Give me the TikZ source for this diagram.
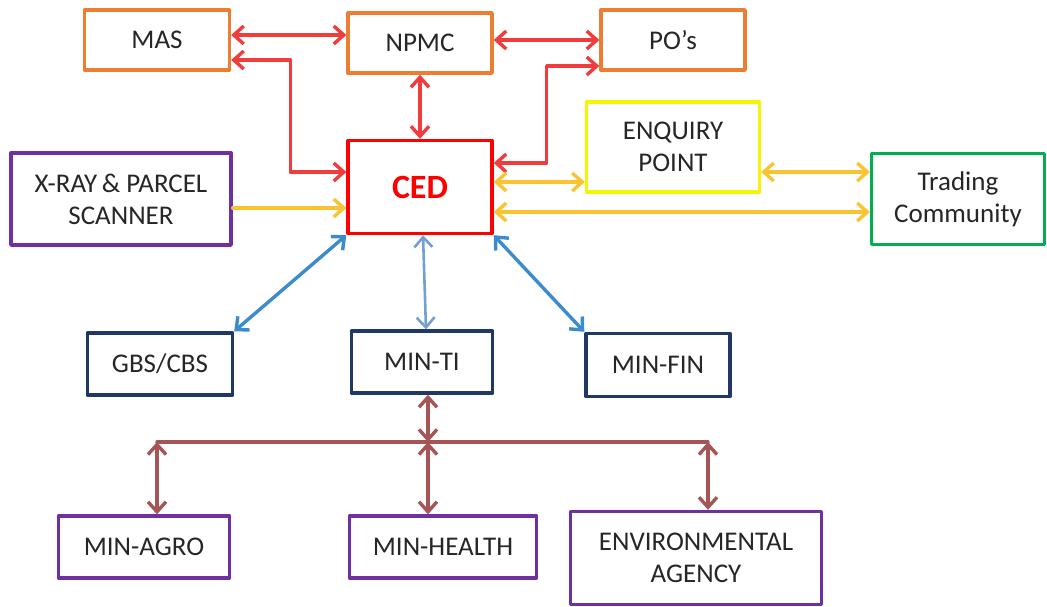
\documentclass[tikz,border=0pt]{standalone}
\usepackage{fontspec}
\setmainfont{Carlito}
\usetikzlibrary{arrows.meta}
\definecolor{orangebox}{RGB}{237,125,49}
\definecolor{redbox}{RGB}{255,0,0}
\definecolor{yellowbox}{RGB}{245,245,0}
\definecolor{greenbox}{RGB}{0,176,80}
\definecolor{purplebox}{RGB}{112,48,160}
\definecolor{navybox}{RGB}{31,56,100}
\definecolor{redarr}{RGB}{240,60,60}
\definecolor{ylwarr}{RGB}{250,195,50}
\definecolor{bluearr}{RGB}{60,140,205}
\definecolor{lbluearr}{RGB}{115,160,210}
\definecolor{brownarr}{RGB}{165,85,85}

\begin{document}
\begin{tikzpicture}[line cap=round,line join=round,x=0.5pt,y=-0.5pt,
		>={Straight Barb[length=5pt,width=9pt]},
		box/.style={draw,line width=1.7pt,fill=white,inner sep=0pt,align=center,
			font=\fontsize{13.5}{16}\selectfont,text=black!85},
		link/.style={line width=1.7pt,<->}]
		\useasboundingbox (0,0) rectangle (1047,606);
		% boxes
		\node[box,draw=orangebox,minimum width=72.5pt,minimum height=30pt] (mas) at (157,40) {MAS};
		\node[box,draw=orangebox,minimum width=72pt,minimum height=30pt] (npmc) at (420,43) {NPMC};
		\node[box,draw=orangebox,minimum width=72pt,minimum height=30pt] (pos) at (673,40) {PO's};
		\node[box,draw=redbox,minimum width=72pt,minimum height=46.5pt,text=redbox,font=\fontsize{17}{20}\selectfont\bfseries] (ced) at (420,187) {CED};
		\node[box,draw=yellowbox,minimum width=86.5pt,minimum height=45pt] (enq) at (673,147) {ENQUIRY\\POINT};
		\node[box,draw=greenbox,minimum width=86.5pt,minimum height=45.5pt] (trade) at (958,199) {Trading\\Community};
		\node[box,draw=purplebox,minimum width=110pt,minimum height=46pt] (xray) at (121,199) {X-RAY\,\& PARCEL\\SCANNER};
		\node[box,draw=navybox,minimum width=72.5pt,minimum height=31pt] (gbs) at (160,364) {GBS/CBS};
		\node[box,draw=navybox,minimum width=70.5pt,minimum height=31pt] (minti) at (422,362) {MIN-TI};
		\node[box,draw=navybox,minimum width=72pt,minimum height=31.5pt] (minfin) at (658,365) {MIN-FIN};
		\node[box,draw=purplebox,minimum width=85.5pt,minimum height=31pt] (minagro) at (144,547) {MIN-AGRO};
		\node[box,draw=purplebox,minimum width=93.5pt,minimum height=31pt] (minhealth) at (443,547) {MIN-HEALTH};
		\node[box,draw=purplebox,minimum width=125.5pt,minimum height=46.5pt] (env) at (696,558) {ENVIRONMENTAL\\AGENCY};
		% red links
		\draw [link,redarr] ([yshift=2.5pt]mas.east) -- ([yshift=2.5pt]mas.east -| npmc.west);
		\draw [link,redarr] ([yshift=-10pt]mas.east) -- ++(29.5pt,0) |- ([yshift=7.5pt]ced.west);
		\draw [link,redarr] (pos.west -| npmc.east) -- (pos.west);
		\draw [link,redarr] (npmc.south) -- (ced.north);
		\draw [link,redarr] ([yshift=12pt]ced.east) -- ++(26.5pt,0) |- ([yshift=-13pt]pos.west);
		% yellow links
		\draw [link,ylwarr] ([yshift=2.5pt]ced.east) -- ([yshift=2.5pt]ced.east -| enq.west);
		\draw [link,ylwarr] ([yshift=-12.5pt]enq.east) -- ([yshift=-12.5pt]enq.east -| trade.west);
		\draw [link,ylwarr] ([yshift=-12.5pt]ced.east) -- ([yshift=-12.5pt]ced.east -| trade.west);
		\draw [link,ylwarr,-{Straight Barb[length=5pt,width=9pt]}] ([yshift=-4.5pt]xray.east) -- ([yshift=-4.5pt]xray.east -| ced.west);
		% blue links
		\draw [link,bluearr] (ced.south west) -- (gbs.north east);
		\draw [link,lbluearr,line width=1.3pt] ([xshift=1.5pt]ced.south) -- ([xshift=2pt]minti.north);
		\draw [link,bluearr] (ced.south east) -- (minfin.north west);
		% brown links
		\coordinate (busl) at (157,442);
		\coordinate (hub) at (428,442);
		\coordinate (busr) at (708,442);
		\draw [line width=1.7pt,brownarr] (busl) -- (busr);
		\draw [link,brownarr] ([xshift=3pt]minti.south) -- (hub);
		\draw [link,brownarr] (busl) -- (busl |- minagro.north);
		\draw [link,brownarr] (hub) -- (hub |- minhealth.north);
		\draw [link,brownarr] (busr) -- (busr |- env.north);
	\end{tikzpicture}
\end{document}
